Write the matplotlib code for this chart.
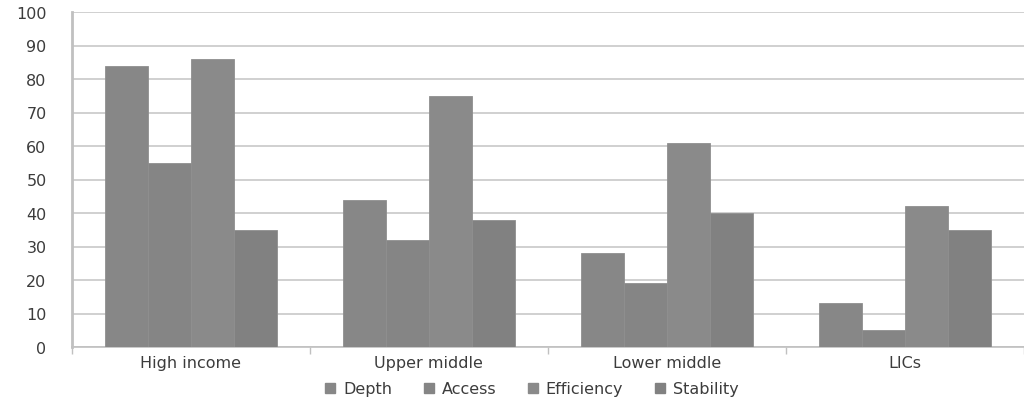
import numpy as np
import matplotlib.pyplot as plt
from matplotlib.lines import Line2D

categories = ["High income", "Upper middle", "Lower middle", "LICs"]
series = ["Depth", "Access", "Efficiency", "Stability"]
depth = [84, 44, 28, 13]
access = [55, 32, 19, 5]
efficiency = [86, 75, 61, 42]
stability = [35, 38, 40, 35]

colors = ["#878787", "#858585", "#8a8a8a", "#818181"]
text_col = "#3c3c3c"

plt.rcParams["font.family"] = ["DejaVu Sans"]

fig = plt.figure(figsize=(10.24, 4.02), dpi=100)
ax = fig.add_axes([71.5 / 1024, 1 - 348 / 402, 1 - 71.5 / 1024, (348 - 13) / 402])

x = np.arange(len(categories))
w = 0.1805
for i, (name, vals) in enumerate(zip(series, [depth, access, efficiency, stability])):
    ax.bar(x + (i - 1.5) * w, vals, width=w, color=colors[i],
           edgecolor="#8f8f8f", linewidth=0.6, zorder=3, label=name)

ax.set_xlim(-0.5, 3.452)
ax.set_ylim(0, 100)
ax.set_yticks(range(0, 101, 10))
ax.yaxis.grid(True, color="#c8c8c8", linewidth=1.2, zorder=0)
ax.set_axisbelow(True)

ax.set_xticks(x)
ax.set_xticklabels(categories)
ax.set_xticks(np.arange(-0.5, 4, 1), minor=True)
ax.tick_params(axis="x", which="major", length=0, pad=6, labelsize=11.5, labelcolor=text_col)
ax.tick_params(axis="x", which="minor", length=5, width=1, color="#c0c0c0", direction="out")
ax.tick_params(axis="y", length=0, pad=18, labelsize=11.5, labelcolor=text_col)
for lab in ax.get_yticklabels():
    lab.set_horizontalalignment("right")

for s in ["top", "right"]:
    ax.spines[s].set_visible(False)
ax.spines["left"].set_color("#c0c0c0")
ax.spines["left"].set_linewidth(2)
ax.spines["bottom"].set_color("#c0c0c0")
ax.spines["bottom"].set_linewidth(1.2)

handles = [Line2D([], [], marker="s", linestyle="none", markersize=7,
                  markerfacecolor=c, markeredgecolor=c) for c in colors]
fig.legend(handles, series, loc="center", bbox_to_anchor=(0.518, 1 - 390 / 402),
           ncol=4, frameon=False, fontsize=11.5, labelcolor=text_col,
           handletextpad=0.3, columnspacing=1.8, handlelength=1.0)

fig.savefig("out.png", dpi=100)
